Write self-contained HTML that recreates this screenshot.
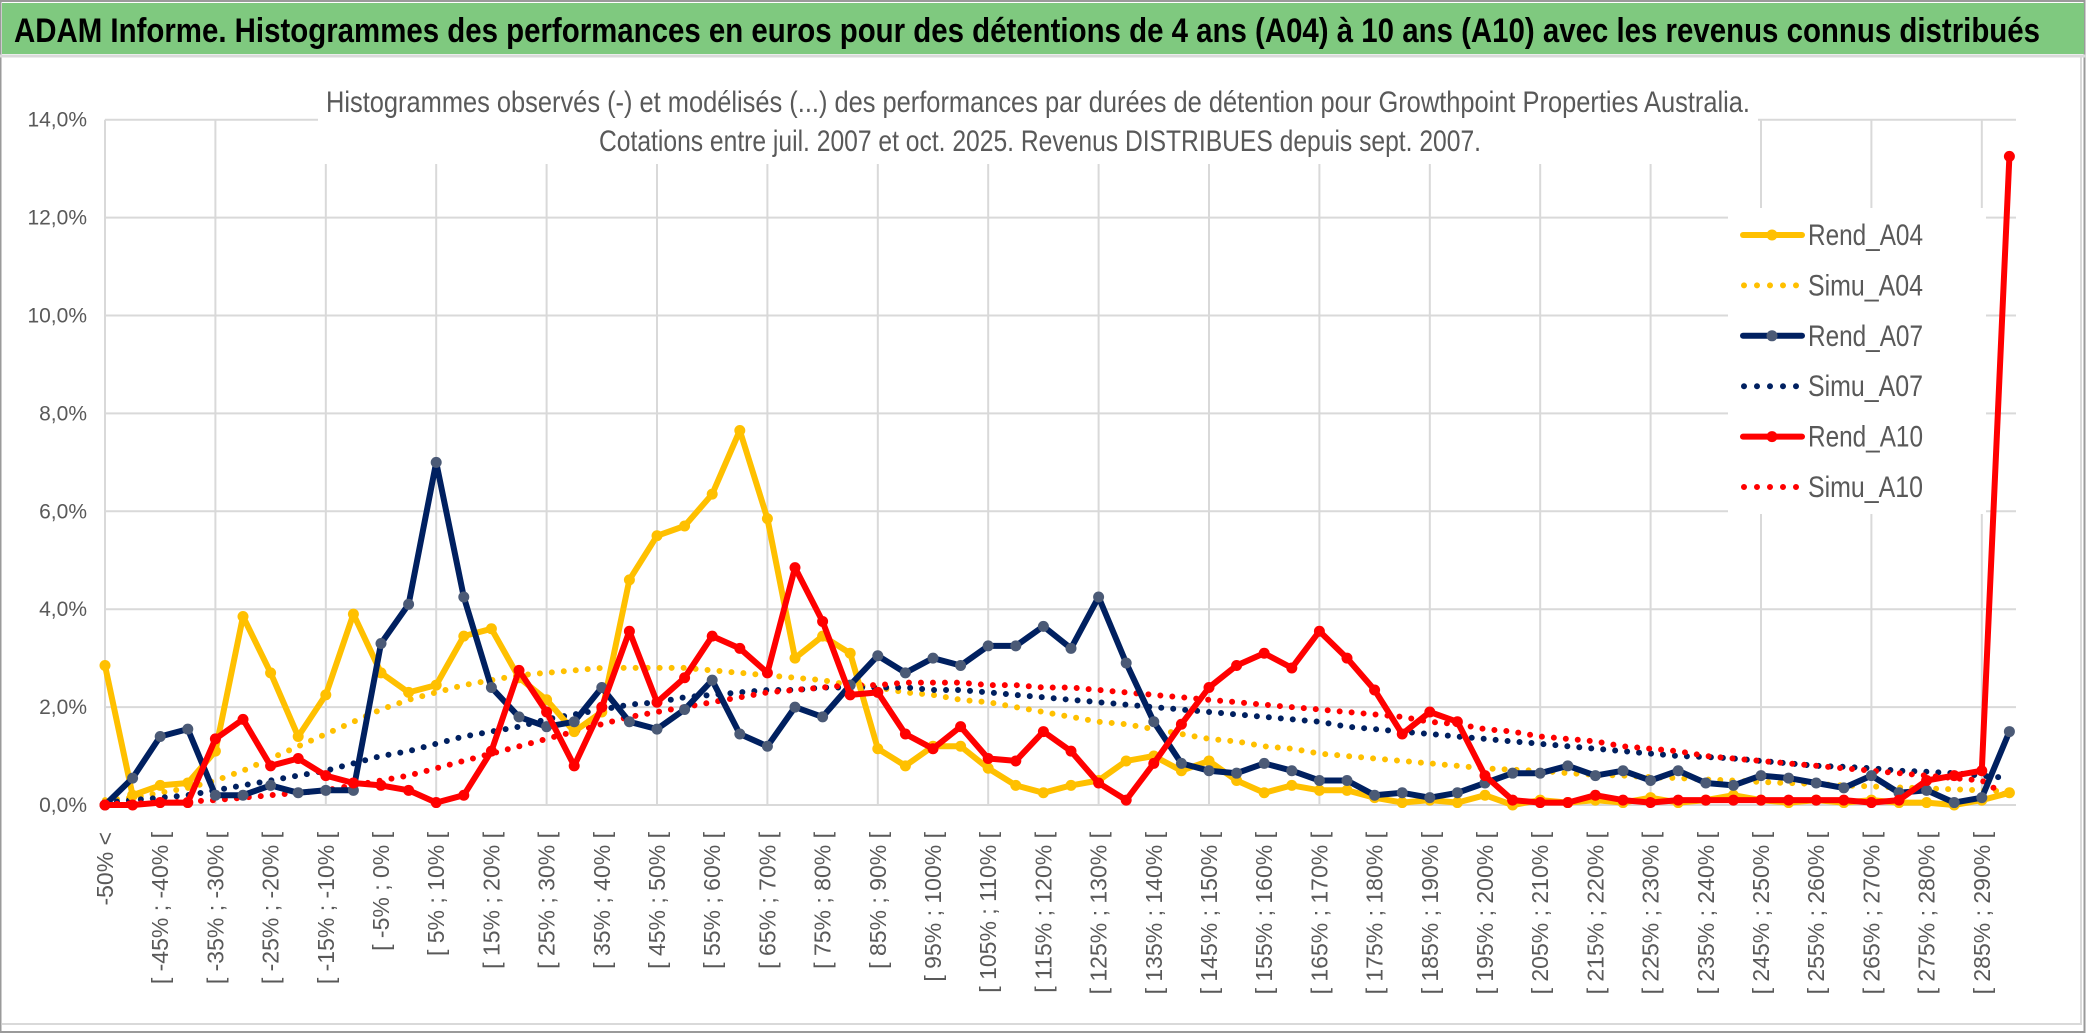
<!DOCTYPE html>
<html><head><meta charset="utf-8"><style>
html,body{margin:0;padding:0;background:#fff;}
svg{display:block;font-family:"Liberation Sans Narrow","Liberation Sans",sans-serif;}
</style></head><body>
<svg id="chart" width="2086" height="1033" viewBox="0 0 2086 1033" xmlns="http://www.w3.org/2000/svg">
<rect x="0" y="0" width="2086" height="1033" fill="#fff"/>
<rect x="0.5" y="1" width="2084" height="1031" fill="none" stroke="#9a9a9a" stroke-width="2"/>
<rect x="2" y="3" width="2082" height="51" fill="#7fc97f"/>
<line x1="0" y1="56" x2="2086" y2="56" stroke="#d9d9d9" stroke-width="3"/>
<line x1="2" y1="1024" x2="2082" y2="1024" stroke="#d9d9d9" stroke-width="2"/>
<line x1="2081" y1="56" x2="2081" y2="1024" stroke="#d9d9d9" stroke-width="2"/>
<text x="14" y="42" font-size="34" font-weight="bold" fill="#000" textLength="2026" lengthAdjust="spacingAndGlyphs">ADAM Informe. Histogrammes des performances en euros pour des détentions de 4 ans (A04) à 10 ans (A10) avec les revenus connus distribués</text>
<g id="grid"></g>
<rect x="318" y="64" width="1440" height="100" fill="#fff"/>
<text x="1038" y="112" font-size="30" fill="#595959" text-anchor="middle" textLength="1424" lengthAdjust="spacingAndGlyphs">Histogrammes observés (-) et modélisés (...) des performances par durées de détention pour Growthpoint Properties Australia.</text>
<text x="1040" y="151" font-size="30" fill="#595959" text-anchor="middle" textLength="882" lengthAdjust="spacingAndGlyphs">Cotations entre juil. 2007 et oct. 2025. Revenus DISTRIBUES depuis sept. 2007.</text>
<g id="xlabels"></g>
<g id="ylabels"></g>
<g id="series"></g>
<g id="legend"></g>
</svg>
<script>
const yTicks = [0, 2, 4, 6, 8, 10, 12, 14];
const rendA04 = [2.85,0.2,0.4,0.45,1.1,3.85,2.7,1.4,2.25,3.9,2.7,2.3,2.45,3.45,3.6,2.6,2.15,1.5,1.9,4.6,5.5,5.7,6.35,7.65,5.85,3.0,3.45,3.1,1.15,0.8,1.2,1.2,0.75,0.4,0.25,0.4,0.5,0.9,1.0,0.7,0.9,0.5,0.25,0.4,0.3,0.3,0.15,0.05,0.1,0.05,0.2,0.0,0.1,0.05,0.1,0.05,0.15,0.05,0.1,0.2,0.1,0.05,0.1,0.05,0.1,0.05,0.05,0.0,0.1,0.25];
const simuA04 = [0.1,0.15,0.25,0.35,0.5,0.7,0.95,1.2,1.45,1.7,1.95,2.15,2.3,2.45,2.55,2.65,2.7,2.75,2.8,2.8,2.8,2.8,2.75,2.7,2.65,2.6,2.55,2.45,2.4,2.3,2.25,2.15,2.1,2.0,1.9,1.8,1.7,1.65,1.55,1.45,1.35,1.3,1.2,1.15,1.05,1.0,0.95,0.9,0.85,0.8,0.75,0.72,0.7,0.65,0.62,0.6,0.57,0.55,0.52,0.5,0.47,0.45,0.43,0.4,0.38,0.36,0.34,0.32,0.3,0.28];
const rendA07 = [0.0,0.55,1.4,1.55,0.2,0.2,0.4,0.25,0.3,0.3,3.3,4.1,7.0,4.25,2.4,1.8,1.6,1.7,2.4,1.7,1.55,1.95,2.55,1.45,1.2,2.0,1.8,2.45,3.05,2.7,3.0,2.85,3.25,3.25,3.65,3.2,4.25,2.9,1.7,0.85,0.7,0.65,0.85,0.7,0.5,0.5,0.2,0.25,0.15,0.25,0.45,0.65,0.65,0.8,0.6,0.7,0.5,0.7,0.45,0.4,0.6,0.55,0.45,0.35,0.6,0.25,0.3,0.05,0.15,1.5];
const simuA07 = [0.05,0.1,0.15,0.2,0.3,0.4,0.5,0.6,0.7,0.85,1.0,1.1,1.25,1.4,1.5,1.6,1.75,1.85,1.95,2.05,2.1,2.2,2.25,2.3,2.35,2.35,2.4,2.4,2.4,2.4,2.35,2.35,2.3,2.25,2.2,2.15,2.1,2.05,2.0,1.95,1.9,1.85,1.8,1.75,1.7,1.6,1.55,1.5,1.45,1.4,1.35,1.3,1.25,1.2,1.15,1.1,1.05,1.0,0.98,0.95,0.9,0.85,0.8,0.78,0.75,0.7,0.68,0.65,0.6,0.55];
const rendA10 = [0,0,0.05,0.05,1.35,1.75,0.8,0.95,0.6,0.45,0.4,0.3,0.05,0.2,1.1,2.75,1.9,0.8,2.0,3.55,2.1,2.6,3.45,3.2,2.7,4.85,3.75,2.25,2.3,1.45,1.15,1.6,0.95,0.9,1.5,1.1,0.45,0.1,0.85,1.65,2.4,2.85,3.1,2.8,3.55,3.0,2.35,1.45,1.9,1.7,0.6,0.1,0.05,0.05,0.2,0.1,0.05,0.1,0.1,0.1,0.1,0.1,0.1,0.1,0.05,0.1,0.5,0.6,0.7,13.25];
const simuA10 = [0.02,0.03,0.05,0.07,0.1,0.15,0.2,0.25,0.3,0.4,0.5,0.6,0.75,0.9,1.05,1.2,1.35,1.5,1.65,1.8,1.9,2.0,2.1,2.2,2.3,2.35,2.4,2.45,2.45,2.5,2.5,2.5,2.45,2.45,2.4,2.4,2.35,2.3,2.25,2.2,2.15,2.1,2.05,2.0,1.95,1.9,1.85,1.8,1.7,1.65,1.55,1.5,1.4,1.35,1.3,1.2,1.15,1.1,1.0,0.95,0.9,0.85,0.8,0.75,0.7,0.65,0.6,0.55,0.5,0.15];
const categories = ["-50% <"];
for (let lo = -50; lo <= 290; lo += 5) categories.push("[ " + lo + "% ; " + (lo + 5) + "% [");

const NS = "http://www.w3.org/2000/svg";
const X0 = 105, STEP = 27.6, Y0 = 805, YPER = 48.95;
function xs(i){ return X0 + i * STEP; }
function ys(v){ return Y0 - v * YPER; }
function mk(tag, attrs, parent){ const e = document.createElementNS(NS, tag); for (const k in attrs) e.setAttribute(k, attrs[k]); parent.appendChild(e); return e; }

const grid = document.getElementById('grid');
const plotRight = 2016;
yTicks.forEach(t => {
  const l = mk('line', {x1: X0, x2: plotRight, y1: ys(t), y2: ys(t), stroke: '#d9d9d9', 'stroke-width': 2}, grid);
  
  
});
for (let i = 0; i < categories.length; i += 4) {
  const l = mk('line', {x1: xs(i), x2: xs(i), y1: ys(14), y2: ys(0), stroke: '#d9d9d9', 'stroke-width': 2}, grid);
  
  
}
const yl = document.getElementById('ylabels');
yTicks.forEach(t => {
  const tx = mk('text', {x: 87, y: ys(t) + 7, 'font-size': 21, fill: '#595959', 'text-anchor': 'end'}, yl);
  tx.textContent = t.toFixed(1).replace('.', ',') + '%';
  
  
});
const xl = document.getElementById('xlabels');
categories.forEach((c, i) => {
  if (i % 2) return;
  const x = xs(i) + 8, y = 832;
  const tx = mk('text', {x: x, y: y, 'font-size': 23, fill: '#595959', 'text-anchor': 'end', transform: 'rotate(-90 ' + x + ' ' + y + ')', 'font-family': '"Liberation Sans", sans-serif'}, xl);
  tx.textContent = c;
  
  
});

const ser = document.getElementById('series');
function pts(arr){ return arr.map((v, i) => xs(i).toFixed(1) + ',' + ys(v).toFixed(1)).join(' '); }
function dotted(arr, color, name){
  const p = mk('polyline', {points: pts(arr), fill: 'none', stroke: color, 'stroke-width': 6, 'stroke-linecap': 'round', 'stroke-dasharray': '0 12'}, ser);
  
  
}
function solid(arr, color, mcolor, name){
  const p = mk('polyline', {points: pts(arr), fill: 'none', stroke: color, 'stroke-width': 6, 'stroke-linejoin': 'round'}, ser);
  
  
  arr.forEach((v, i) => {
    const c = mk('circle', {cx: xs(i), cy: ys(v), r: 5.5, fill: mcolor}, ser);
    
    
  });
}
dotted(simuA04, '#FFC000', 'simu-a04-line');
dotted(simuA07, '#002060', 'simu-a07-line');
dotted(simuA10, '#FF0000', 'simu-a10-line');
solid(rendA04, '#FFC000', '#FFC000', 'rend-a04-line');
solid(rendA07, '#002060', '#4b5a76', 'rend-a07-line');
solid(rendA10, '#FF0000', '#FF0000', 'rend-a10-line');

const lg = document.getElementById('legend');
const lb = mk('rect', {x: 1728, y: 208, width: 258, height: 306, fill: '#fff'}, lg);


const legendNames = ['Rend_A04','Simu_A04','Rend_A07','Simu_A07','Rend_A10','Simu_A10'];
const legendColors = ['#FFC000','#FFC000','#002060','#002060','#FF0000','#FF0000'];
legendNames.forEach((n, i) => {
  const y = 235 + i * 50.4;
  const g = mk('g', {}, lg);
  
  
  if (n.startsWith('Rend')) {
    mk('line', {x1: 1743, x2: 1802, y1: y, y2: y, stroke: legendColors[i], 'stroke-width': 6, 'stroke-linecap': 'round'}, g);
    mk('circle', {cx: 1772, cy: y, r: 5.5, fill: i === 2 ? '#4b5a76' : legendColors[i]}, g);
  } else {
    mk('line', {x1: 1744, x2: 1802, y1: y, y2: y, stroke: legendColors[i], 'stroke-width': 6, 'stroke-linecap': 'round', 'stroke-dasharray': '0 13'}, g);
  }
  const t = mk('text', {x: 1808, y: y + 10, 'font-size': 30, fill: '#595959', textLength: 115, lengthAdjust: 'spacingAndGlyphs'}, g);
  t.textContent = n;
});
</script>
</body></html>
